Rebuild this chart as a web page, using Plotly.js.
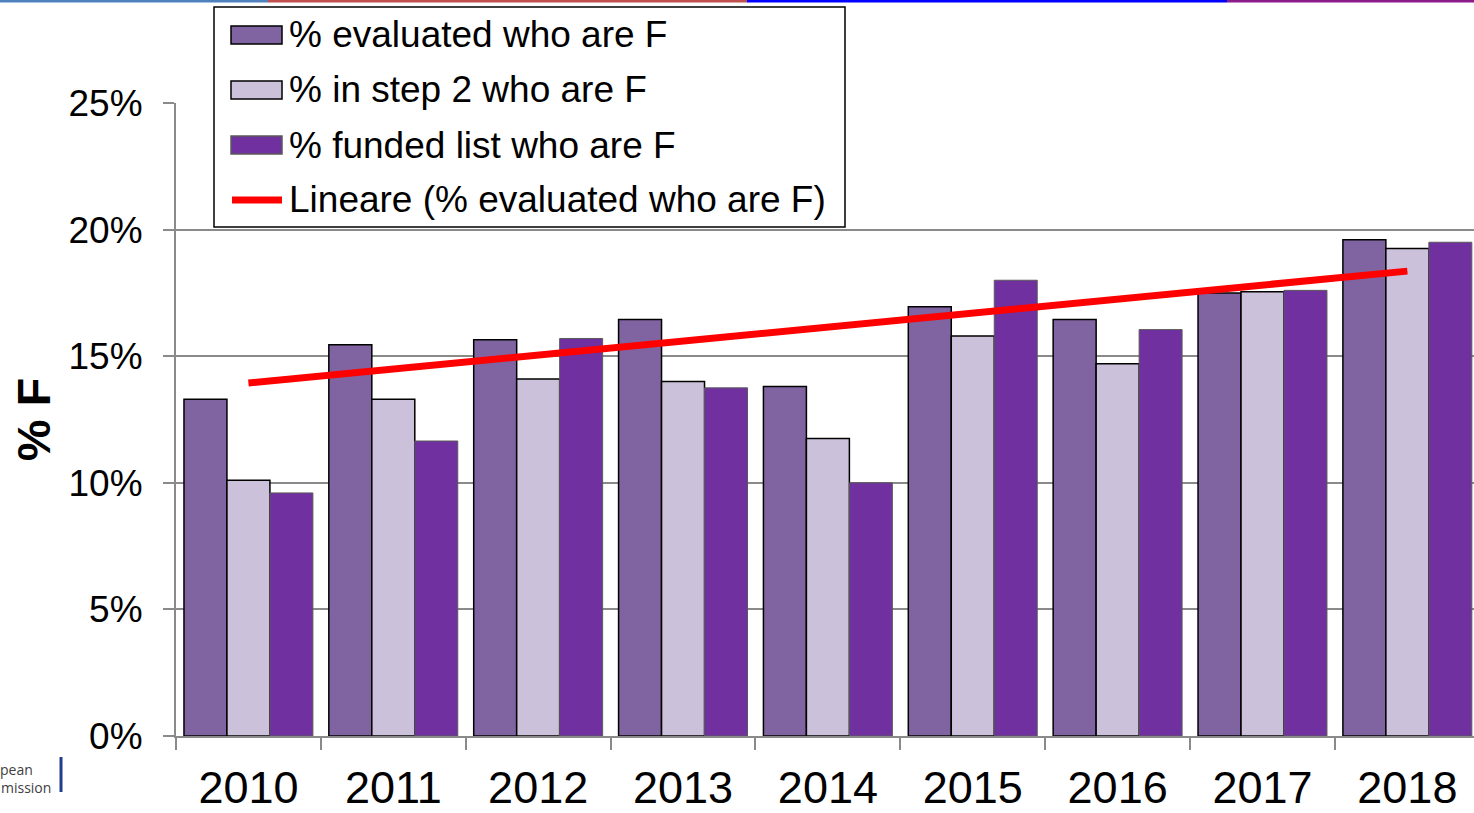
<!DOCTYPE html>
<html>
<head>
<meta charset="utf-8">
<script src="https://cdn.plot.ly/plotly-3.0.1.min.js"></script>
<style>
  html, body { margin: 0; padding: 0; background: #ffffff; }
  #chart { width: 1474px; height: 813px; }
</style>
</head>
<body>
<div id="chart"></div>
<script>
// ---- data ----
const years = ['2010', '2011', '2012', '2013', '2014', '2015', '2016', '2017', '2018'];
const evaluatedF = [13.3, 15.45, 15.65, 16.45, 13.8, 16.95, 16.45, 17.5, 19.6];
const step2F     = [10.1, 13.3, 14.1, 14.0, 11.75, 15.8, 14.7, 17.55, 19.25];
const fundedF    = [9.6, 11.65, 15.7, 13.75, 10.0, 18.0, 16.05, 17.6, 19.5];
// linear trend of "% evaluated" as drawn in the reference (end points)
const trendYears = ['2010', '2018'];
const trendValues = [13.94, 18.36];
const seriesNames = ['% evaluated who are F', '% in step 2 who are F', '% funded list who are F', 'Lineare (% evaluated who are F)'];
const yTickVals = [0, 5, 10, 15, 20, 25];
const yTickText = ['0%', '5%', '10%', '15%', '20%', '25%'];

// ---- layout helpers ----
const W = 1474, H = 813;
const L = 176, R = 0, T = 103, B = 77;
const plotW = W - L - R, plotH = H - T - B;
const px2x = p => (p - L) / plotW;
const py2y = p => (H - B - p) / plotH;

const FONT = '"Liberation Sans", Arial, sans-serif';
const GRID = '#8a8a8a';
const colors = ['#8064A2', '#CCC1DA', '#7030A0', '#FF0000'];
const borders = [['#000000', 1.5], ['#000000', 1.5], ['#5a5a5a', 1]];

const traces = [
  { type: 'bar', name: seriesNames[0], x: years, y: evaluatedF,
    marker: { color: colors[0], line: { color: borders[0][0], width: borders[0][1] } } },
  { type: 'bar', name: seriesNames[1], x: years, y: step2F,
    marker: { color: colors[1], line: { color: borders[1][0], width: borders[1][1] } } },
  { type: 'bar', name: seriesNames[2], x: years, y: fundedF,
    marker: { color: colors[2], line: { color: borders[2][0], width: borders[2][1] } } },
  { type: 'scatter', mode: 'lines', name: seriesNames[3], x: trendYears, y: trendValues,
    line: { color: colors[3], width: 7 } }
];

const shapes = [];
// top decorative strip
const strip = [[0, 268, '#4F81BD'], [268, 747, '#C0504D'], [747, 1227, '#0000FF'], [1227, 1474, '#8B1A8B']];
strip.forEach(s => shapes.push({ type: 'rect', xref: 'paper', yref: 'paper',
  x0: px2x(s[0]), x1: px2x(s[1]), y0: py2y(2.5), y1: py2y(0), fillcolor: s[2], line: { width: 0 } }));
// logo bar bottom-left
shapes.push({ type: 'line', xref: 'paper', yref: 'paper', x0: px2x(61), x1: px2x(61),
  y0: py2y(792), y1: py2y(757), line: { color: '#1F3E8C', width: 3 } });

// legend box (drawn by hand to match the large swatches of the reference)
shapes.push({ type: 'rect', xref: 'paper', yref: 'paper', layer: 'above',
  x0: px2x(214), x1: px2x(845), y0: py2y(227), y1: py2y(7),
  fillcolor: '#ffffff', line: { color: '#000000', width: 1.5 } });
const legendRows = [35, 90, 145, 200];
const annotations = [];
seriesNames.forEach((name, i) => {
  const yc = legendRows[i];
  if (i < 3) {
    shapes.push({ type: 'rect', xref: 'paper', yref: 'paper', layer: 'above',
      x0: px2x(231), x1: px2x(282), y0: py2y(yc + 9), y1: py2y(yc - 9),
      fillcolor: colors[i], line: { color: borders[i][0], width: 1.5 } });
  } else {
    shapes.push({ type: 'line', xref: 'paper', yref: 'paper', layer: 'above',
      x0: px2x(232), x1: px2x(282), y0: py2y(yc), y1: py2y(yc),
      line: { color: colors[3], width: 7 } });
  }
  annotations.push({ xref: 'paper', yref: 'paper', x: px2x(287), y: py2y(yc), xanchor: 'left', yanchor: 'middle',
    text: name, showarrow: false, font: { family: FONT, size: 37, color: '#000000' } });
});

annotations.push(
  { xref: 'paper', yref: 'paper', x: px2x(-2), y: py2y(769), xanchor: 'left', yanchor: 'middle',
    text: 'pean', showarrow: false, font: { family: '"Open Sans", sans-serif', size: 14, color: '#404040' } },
  { xref: 'paper', yref: 'paper', x: px2x(-1), y: py2y(787), xanchor: 'left', yanchor: 'middle',
    text: 'mission', showarrow: false, font: { family: '"Open Sans", sans-serif', size: 14, color: '#404040' } }
);

const layout = {
  width: W, height: H,
  margin: { l: L, r: R, t: T, b: B, pad: 0 },
  paper_bgcolor: '#ffffff', plot_bgcolor: '#ffffff',
  font: { family: FONT, color: '#000000' },
  barmode: 'group', bargap: 0.11, bargroupgap: 0,
  showlegend: false,
  xaxis: {
    type: 'category', range: [-0.5, 8.46],
    showline: true, linecolor: GRID, linewidth: 2,
    ticks: 'outside', tickson: 'boundaries', ticklen: 12, tickcolor: GRID, tickwidth: 2,
    showgrid: false,
    tickfont: { family: FONT, size: 45, color: '#000000' },
    ticklabelstandoff: 11,
    fixedrange: true
  },
  yaxis: {
    range: [0, 25], tickmode: 'array', tickvals: yTickVals, ticktext: yTickText,
    showline: true, linecolor: GRID, linewidth: 2,
    ticks: 'outside', ticklen: 11, tickcolor: GRID, tickwidth: 2,
    showgrid: true, gridcolor: GRID, gridwidth: 2, zeroline: false,
    tickfont: { family: FONT, size: 37, color: '#000000' },
    ticklabelstandoff: 13,
    title: { text: '<b>% F</b>', font: { family: FONT, size: 47, color: '#000000' }, standoff: 3 },
    fixedrange: true
  },
  shapes: shapes,
  annotations: annotations
};

Plotly.newPlot('chart', traces, layout, { displayModeBar: false, staticPlot: true });
</script>
</body>
</html>
